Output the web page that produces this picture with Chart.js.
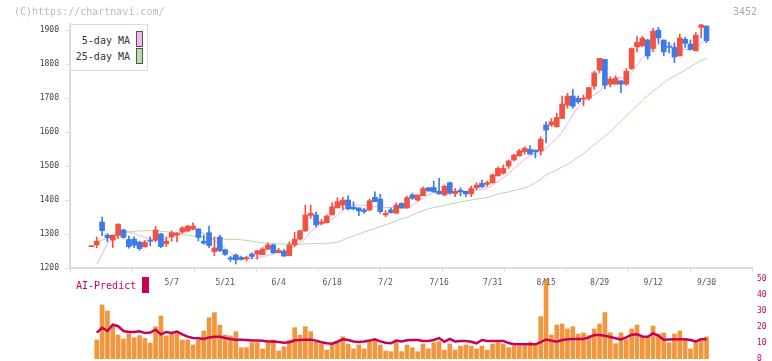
<!DOCTYPE html>
<html><head><meta charset="utf-8">
<script src="https://cdn.jsdelivr.net/npm/chart.js@4/dist/chart.umd.min.js"></script>
<style>
html,body{margin:0;padding:0;background:#fff;}
#wrap{position:relative;width:772px;height:361px;overflow:hidden;font-family:"DejaVu Sans Mono",monospace;}
canvas{position:absolute;left:0;top:0;}
.t{position:absolute;white-space:nowrap;line-height:1;}
#copy{left:14px;top:7px;font-size:10px;color:#bbb;}
#code{left:733px;top:7px;font-size:10px;color:#aaa;}
#leg{position:absolute;left:70px;top:24px;width:76px;height:45px;border:1px solid #ddd;background:#fff;}
.lt{position:absolute;right:17px;font-size:10px;color:#333;line-height:1;}
.sw{position:absolute;left:65px;width:5px;height:14px;border:1px solid #555;}
#ai{left:76px;top:281px;font-size:10px;color:#c8005a;}
#aim{position:absolute;left:142px;top:277px;width:7px;height:16px;background:#c8005a;}
</style></head><body>
<div id="wrap">
<canvas id="vol" width="772" height="361"></canvas>
<canvas id="main" width="772" height="361"></canvas>
<div id="copy" class="t">(C)https://chartnavi.com/</div>
<div id="code" class="t">3452</div>
<div id="leg">
  <div class="lt" style="top:11px">5-day MA</div><div class="sw" style="top:6px;background:#f0b8f0"></div>
  <div class="lt" style="top:27px">25-day MA</div><div class="sw" style="top:23px;background:#b8e0a8"></div>
</div>
<div id="ai" class="t">AI-Predict</div><div id="aim"></div>
</div>
<script>
// ---- data (116 trading days) ----
const open = [1263,1268,1335,1297,1282,1296,1312,1284,1285,1276,1262,1280,1282,1300,1271,1292,1297,1306,1309,1315,
1315,1279,1304,1248,1291,1254,1230,1238,1231,1227,1241,1241,1239,1255,1268,1245,1249,1236,1268,1285,
1309,1355,1356,1331,1333,1356,1377,1385,1400,1379,1377,1371,1371,1408,1403,1356,1371,1361,1390,1377,
1415,1400,1413,1436,1437,1426,1415,1451,1419,1429,1426,1418,1436,1449,1446,1451,1471,1479,1500,1518,
1530,1542,1549,1547,1544,1621,1621,1616,1640,1679,1706,1699,1697,1699,1735,1782,1814,1741,1741,1751,
1741,1787,1851,1854,1871,1846,1900,1871,1853,1849,1824,1873,1859,1839,1908,1912];
const high = [1264,1291,1350,1301,1297,1330,1314,1294,1292,1279,1281,1292,1322,1302,1292,1309,1304,1322,1326,1333,
1315,1297,1323,1292,1297,1254,1235,1241,1235,1235,1245,1251,1260,1274,1270,1258,1255,1277,1305,1310,
1385,1385,1365,1343,1356,1392,1407,1408,1413,1395,1377,1376,1403,1424,1417,1369,1376,1392,1392,1412,
1420,1415,1439,1437,1456,1464,1444,1453,1434,1436,1426,1441,1451,1459,1456,1476,1498,1503,1518,1535,
1549,1557,1560,1547,1586,1630,1640,1655,1706,1714,1726,1706,1709,1731,1779,1817,1814,1763,1766,1751,
1787,1848,1882,1882,1873,1905,1908,1871,1864,1863,1888,1879,1871,1893,1918,1912];
const low = [1263,1260,1295,1277,1260,1286,1287,1258,1260,1252,1262,1265,1277,1260,1263,1279,1277,1302,1306,1312,
1280,1270,1260,1236,1248,1237,1219,1212,1223,1221,1227,1226,1239,1255,1243,1245,1235,1236,1263,1282,
1307,1346,1321,1327,1333,1356,1377,1371,1371,1371,1354,1361,1368,1395,1361,1351,1361,1361,1376,1377,
1402,1397,1413,1425,1423,1417,1412,1417,1410,1412,1410,1410,1431,1437,1440,1449,1471,1476,1493,1515,
1529,1535,1535,1524,1532,1568,1616,1614,1640,1670,1670,1684,1677,1694,1726,1774,1728,1733,1741,1716,
1738,1784,1836,1851,1815,1836,1861,1824,1833,1804,1824,1849,1841,1839,1877,1863];
const close = [1264,1279,1310,1289,1297,1329,1290,1263,1267,1257,1276,1279,1312,1263,1279,1304,1303,1318,1323,1323,
1290,1273,1266,1259,1251,1240,1226,1224,1225,1231,1234,1251,1256,1268,1245,1252,1235,1268,1285,1310,
1356,1361,1327,1336,1353,1380,1395,1400,1374,1374,1368,1366,1398,1395,1366,1361,1363,1385,1377,1407,
1405,1415,1434,1427,1424,1418,1441,1420,1426,1424,1418,1434,1444,1439,1451,1474,1493,1493,1515,1532,
1545,1552,1535,1542,1579,1606,1630,1643,1682,1706,1676,1689,1700,1731,1774,1817,1738,1756,1758,1741,
1779,1846,1864,1876,1824,1897,1877,1836,1849,1821,1877,1861,1843,1885,1915,1869];
const ma5 = [null,1211,1241,1272,1285,1296,1306,1305,1302,1296,1290,1285,1282,1282,1286,1292,1297,1304,1310,1314,
1310,1302,1292,1280,1271,1258,1245,1235,1230,1227,1228,1230,1233,1237,1241,1247,1250,1255,1263,1273,
1287,1307,1320,1328,1336,1344,1355,1371,1382,1385,1385,1384,1381,1380,1379,1378,1378,1378,1375,1374,
1385,1395,1405,1415,1421,1423,1424,1424,1424,1424,1424,1426,1429,1432,1436,1444,1454,1466,1478,1493,
1506,1520,1530,1537,1543,1552,1567,1580,1600,1625,1650,1674,1692,1702,1709,1719,1741,1751,1760,1761,
1758,1774,1797,1817,1836,1848,1858,1864,1861,1853,1846,1843,1843,1849,1861,1871];
const ma25 = [null,1277,1282,1287,1292,1299,1305,1307,1308,1309,1310,1310,1309,1308,1307,1305,1302,1299,1296,1294,
1292,1290,1289,1287,1286,1285,1284,1284,1283,1281,1279,1276,1274,1273,1272,1271,1271,1270,1270,1270,
1271,1271,1272,1271,1272,1274,1276,1282,1289,1295,1300,1306,1311,1316,1322,1327,1332,1339,1345,1349,
1356,1363,1369,1374,1378,1381,1384,1388,1391,1394,1397,1400,1403,1405,1407,1412,1417,1421,1424,1428,
1432,1436,1442,1451,1461,1474,1481,1488,1498,1505,1515,1527,1537,1550,1562,1575,1588,1601,1618,1632,
1647,1663,1677,1692,1707,1721,1733,1745,1756,1765,1774,1782,1792,1802,1811,1817];
const volume = [null,11.9,33.8,30,21.2,15,12.5,15.6,13.3,14.6,12.9,10,20.2,26.9,14.4,15.4,16,11.9,11.9,8.8,
11.9,17.5,25.8,29,21.2,15,14.4,17.1,7.1,7.1,10.2,10.2,6.3,10.2,11.9,5,7.7,11.9,19.6,15,
20.2,17.1,10.8,9.4,5.6,9.4,10.2,13.9,9.4,6.3,8.8,6.3,10.8,11.3,8.8,5,4.6,10.2,4.6,8.8,
7.1,4.6,9.4,6.3,10.2,10.8,5.6,9.4,5.6,8.1,8.8,8.1,6.3,8.1,5.6,9.4,10.2,9.4,7.1,8.1,
8.1,8.4,10.6,9.5,26.5,50,15,21.2,21.9,18.8,20.2,15.6,16.3,14.6,18.8,21.9,29,16.4,9.6,16.4,
12.1,18.8,21.2,13.4,13.4,20.6,15.7,16.3,10.2,15.6,17.5,12.2,6.3,10.8,12.3,13.8];
const aiPredict = [null,16.5,19.5,17.5,21.5,20.5,17.5,16.9,16.9,17.3,16.2,16.5,18.3,15.4,16.9,16.2,17.1,15.4,14,13.1,
12.9,12.5,13.5,13.9,13.9,13.1,12.5,12.1,12,11.9,11.5,11.5,11.4,11,11,10.6,10.2,10.4,11.7,11.9,
12.1,12.1,11.5,10.5,9.8,9.6,10.8,12.3,11.9,11,10.6,11,11.5,12.3,11,10.2,9.8,11.5,11,11.7,
11.9,11.9,11.3,11.3,11.9,13.1,10.8,12.5,11,11.3,11.3,10.8,9.8,11.9,11.3,11.3,11.3,11.3,10,9.2,
9.2,9.2,9.2,9.2,10.6,12.2,11.5,10.8,11.9,12.3,12.5,12.5,12.5,13.5,15,15,14.5,13.8,13,12.2,
13.5,15.2,15.4,14.1,13.9,16,14.6,12.1,12.2,12.3,12.4,12.4,11.9,11,12.4,12.4];
const dateLabels = ['5/7','5/21','6/4','6/18','7/2','7/16','7/31','8/15','8/29','9/12','9/30'];
const dateCandle = [16,26,36,46,56,66,76,86,96,106,116];   // 1-based candle number under each label
const priceTicks = [1200,1300,1400,1500,1600,1700,1800,1900];
const volTicks = [0,10,20,30,40,50];

// ---- layout / style ----
const LEAD = 4, XMAX = 127.5, TICKS_X = 11;
const UP = '#f25241', DOWN = '#3f7ae9';
const xs = close.map((_, i) => i + LEAD);
const colors = close.map((c, i) => c >= open[i] ? UP : DOWN);
const AXIS = '#dcdcdc';
const lblFont = {family: '"DejaVu Sans Mono", monospace', size: 8};

new Chart(document.getElementById('main'), {
  type: 'bar',
  data: {datasets: [
    {type: 'line', data: xs.map((x, i) => ({x, y: ma5[i]})), borderColor: '#e8b2ee', borderWidth: 1, pointRadius: 0, order: 3},
    {type: 'line', data: xs.map((x, i) => ({x, y: ma25[i]})), borderColor: '#b2dba2', borderWidth: 1, pointRadius: 0, order: 3},
    {type: 'bar', data: xs.map((x, i) => ({x, y: [low[i], high[i]]})), backgroundColor: colors, barThickness: 1, grouped: false, order: 2},
    {type: 'bar', data: xs.map((x, i) => ({x, y: [open[i], close[i]]})), backgroundColor: colors, barThickness: 5, minBarLength: 1, grouped: false, order: 1}
  ]},
  options: {
    responsive: false, animation: false, devicePixelRatio: 1,
    plugins: {legend: {display: false}, tooltip: {enabled: false}},
    layout: {padding: {left: 0, right: 20, top: 24, bottom: 68}},
    scales: {
      x: {type: 'linear', min: 0, max: XMAX, offset: false, position: 'bottom', weight: 0,
          afterBuildTicks: s => { s.ticks = Array.from({length: TICKS_X + 1}, (_, i) => ({value: i * XMAX / TICKS_X})); },
          ticks: {display: false},
          grid: {drawOnChartArea: false, drawTicks: true, tickLength: 4, color: AXIS, offset: false},
          border: {display: true, color: AXIS, width: 2},
          afterFit: s => { s.height = 5; s.paddingLeft = 0; s.paddingRight = 0; }},
      xl: {type: 'linear', min: 0, max: XMAX, offset: false, position: 'bottom', weight: 1,
          afterBuildTicks: s => { s.ticks = dateCandle.map(c => ({value: c - 1 + LEAD})); },
          ticks: {autoSkip: false, maxRotation: 0, padding: 5, color: '#555', font: lblFont,
                  callback: (v, i) => dateLabels[i]},
          grid: {display: false, drawTicks: false}, border: {display: false},
          afterFit: s => { s.height = 20; s.paddingLeft = 0; s.paddingRight = 0; }},
      y: {type: 'linear', min: 1200, max: 1918, position: 'left', beginAtZero: false,
          afterBuildTicks: s => { s.ticks = priceTicks.map(v => ({value: v})); },
          ticks: {padding: 6, color: '#444', font: lblFont, callback: v => String(v)},
          grid: {drawOnChartArea: false, tickLength: 5, color: AXIS},
          border: {display: true, color: AXIS, width: 2},
          afterFit: s => { s.width = 70; }}
    }
  }
});

new Chart(document.getElementById('vol'), {
  type: 'bar',
  data: {datasets: [
    {type: 'line', data: xs.map((x, i) => ({x, y: aiPredict[i]})), borderColor: '#c8005a', borderWidth: 2.5, pointRadius: 0, order: 1},
    {type: 'bar', data: xs.map((x, i) => ({x, y: volume[i]})), backgroundColor: '#f2963e', barThickness: 4, grouped: false, order: 2}
  ]},
  options: {
    responsive: false, animation: false, devicePixelRatio: 1,
    plugins: {legend: {display: false}, tooltip: {enabled: false}},
    layout: {padding: {left: 70, right: 0, top: 279, bottom: 2}},
    scales: {
      x: {type: 'linear', min: 0, max: XMAX, offset: false, display: false},
      y: {type: 'linear', min: 0, max: 50, position: 'right',
          afterBuildTicks: s => { s.ticks = volTicks.map(v => ({value: v})); },
          ticks: {padding: 5, color: '#c8005a', font: lblFont, callback: v => String(v)},
          grid: {display: false, drawTicks: false}, border: {display: false},
          afterFit: s => { s.width = 20; s.paddingTop = 0; s.paddingBottom = 0; }}
    }
  }
});
</script>
</body></html>
